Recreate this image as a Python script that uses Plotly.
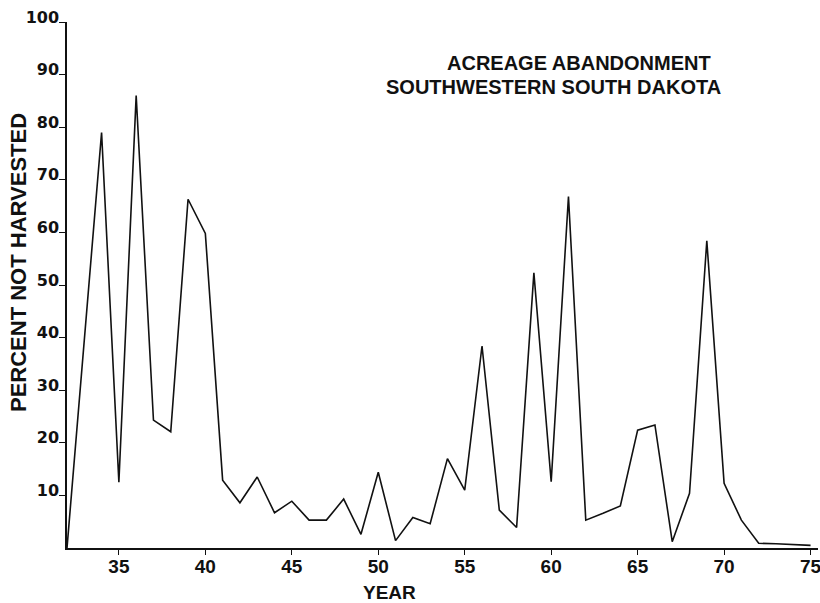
import plotly.graph_objects as go

years = list(range(32, 76))
percent_not_harvested = [
    0.0, 39.5, 79.0, 12.5, 86.0, 24.3, 22.1, 66.3, 59.8, 12.9,
    8.6, 13.5, 6.7, 8.9, 5.3, 5.3, 9.3, 2.6, 14.4, 1.4,
    5.8, 4.6, 17.0, 11.0, 38.4, 7.2, 3.9, 52.3, 12.6, 66.8,
    5.3, 6.6, 8.0, 22.4, 23.4, 1.2, 10.4, 58.4, 12.3, 5.3,
    0.9, 0.8, 0.6, 0.5,
]
x_ticks = [35, 40, 45, 50, 55, 60, 65, 70, 75]
y_ticks = [10, 20, 30, 40, 50, 60, 70, 80, 90, 100]
title_lines = ["ACREAGE ABANDONMENT", "SOUTHWESTERN SOUTH DAKOTA"]
x_title = "YEAR"
y_title = "PERCENT NOT HARVESTED"

INK = "#111111"
HEAD = "Liberation Sans, Arial, sans-serif"
DIGITS = "DejaVu Sans, sans-serif"

W, H = 820, 603
ML, MR, MT, MB = 67, 2, 22, 55

fig = go.Figure()
fig.add_trace(go.Scatter(
    x=years, y=percent_not_harvested, mode="lines",
    line=dict(color=INK, width=1.6),
    hoverinfo="skip", showlegend=False,
))


def px_to_paper(px, py):
    return (px - ML) / (W - ML - MR), (H - py - MB) / (H - MT - MB)


def label(text, px, py, size, angle=0):
    x, y = px_to_paper(px, py)
    return dict(
        text=text, textangle=angle, showarrow=False,
        xref="paper", yref="paper", x=x, y=y,
        xanchor="center", yanchor="middle",
        font=dict(family=HEAD, size=size, color=INK, weight="bold"),
    )


fig.update_layout(
    width=W, height=H,
    margin=dict(l=ML, r=MR, t=MT, b=MB, autoexpand=False),
    paper_bgcolor="white", plot_bgcolor="white",
    xaxis=dict(
        range=[32, 75.43], tickvals=x_ticks, ticktext=[str(v) for v in x_ticks],
        showline=True, linecolor=INK, linewidth=1.5,
        ticks="outside", ticklen=5, tickcolor=INK, tickwidth=1.3,
        showgrid=False, zeroline=False, automargin=False,
        ticklabelstandoff=-5, ticklabeloverflow="allow",
        tickfont=dict(family=HEAD, size=19, color=INK, weight="bold"),
    ),
    yaxis=dict(
        range=[0, 100], tickvals=y_ticks, ticktext=[str(v) for v in y_ticks],
        showline=True, linecolor=INK, linewidth=1.5,
        ticks="outside", ticklen=6, tickcolor=INK, tickwidth=1.3,
        showgrid=False, zeroline=False, automargin=False,
        ticklabelshift=-5, ticklabelstandoff=-3,
        tickfont=dict(family=DIGITS, size=16, color=INK, weight="bold"),
    ),
    annotations=[
        label(title_lines[0], 579, 63, 20),
        label(title_lines[1], 553, 87, 20),
        label(x_title, 389, 592, 19),
        label(y_title, 18, 263, 22, angle=-90),
    ],
)

fig.write_html(
    "out.html",
    config={"displayModeBar": False},
    post_script="document.body.style.margin='0';document.body.style.padding='0';",
)
